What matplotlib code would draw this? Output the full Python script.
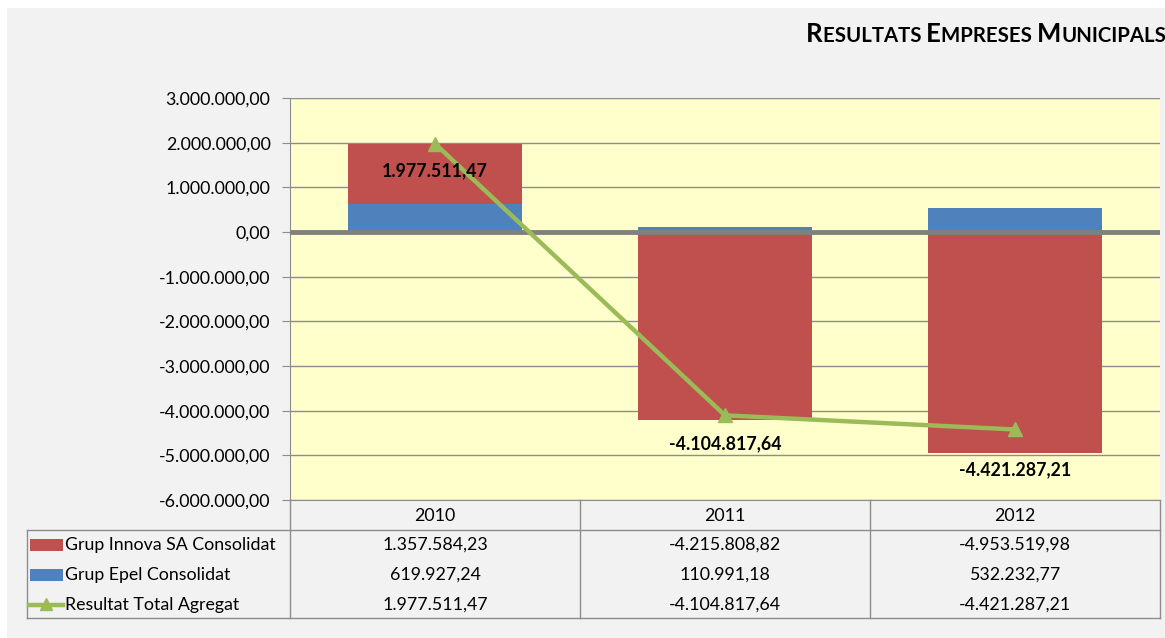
import matplotlib
matplotlib.use("Agg")
import matplotlib.pyplot as plt
import matplotlib.patches as mpatches
from matplotlib.lines import Line2D
from matplotlib.ticker import FuncFormatter
import numpy as np

# data
years = ["2010", "2011", "2012"]
innova = [1357584.23, -4215808.82, -4953519.98]
epel = [619927.24, 110991.18, 532232.77]
total = [1977511.47, -4104817.64, -4421287.21]
series_names = ["Grup Innova SA Consolidat", "Grup Epel Consolidat", "Resultat Total Agregat"]
yticks = [3e6, 2e6, 1e6, 0, -1e6, -2e6, -3e6, -4e6, -5e6, -6e6]

RED = "#C0504D"
BLUE = "#4F81BD"
GREEN = "#9BBB59"
GRID = "#8C8C8C"
FONT = "Lato"
FS = 12.8

W, H = 1165, 638


def eu(v, pos=None):
    # 1234567.89 -> 1.234.567,89
    s = f"{v:,.2f}"
    return s.replace(",", "X").replace(".", ",").replace("X", ".")


def fx(px):
    return px / W


def fy(py):
    return 1 - py / H


fig = plt.figure(figsize=(W / 100, H / 100), dpi=100, facecolor="white")
# gray chart area with the thin white border at left/top
fig.patches.append(mpatches.Rectangle((fx(7), 0), 1, fy(8), transform=fig.transFigure,
                                      facecolor="#F2F2F2", edgecolor="none", zorder=-10))

ax = fig.add_axes([fx(290), fy(500), fx(1160) - fx(290), fy(98) - fy(500)])
ax.set_facecolor("#FFFFCC")

x = np.arange(len(years))
epel_arr = np.array(epel)
innova_arr = np.array(innova)
bottom_innova = np.where(innova_arr >= 0, np.where(epel_arr > 0, epel_arr, 0), np.where(epel_arr < 0, epel_arr, 0))
ax.bar(x, epel_arr, width=0.6, color=BLUE, zorder=2)
ax.bar(x, innova_arr, width=0.6, bottom=bottom_innova, color=RED, zorder=2)

ax.plot(x, total, color=GREEN, lw=3.2, marker="^", ms=10, zorder=4)
label_off = [-27, -28, -40]
for xi, v, off in zip(x, total, label_off):
    ax.annotate(eu(v), (xi, v), xytext=(0, off), textcoords="offset pixels",
                ha="center", va="center", fontsize=12.8, fontweight="bold",
                family=FONT, zorder=5)

ax.set_xlim(-0.5, 2.5)
ax.set_ylim(-6e6, 3e6)
ax.set_yticks(yticks)
ax.yaxis.set_major_formatter(FuncFormatter(eu))
ax.set_xticks([])
for t in yticks:
    if t == 0:
        continue
    ax.axhline(t, color=GRID, lw=1, zorder=1)
ax.axhline(0, color="#808080", lw=3.5, zorder=3)
ax.tick_params(axis="y", length=6, color=GRID, pad=8, labelsize=FS)
for lab in ax.get_yticklabels():
    lab.set_family(FONT)
for s in ["top", "right"]:
    ax.spines[s].set_visible(False)
ax.spines["left"].set_color(GRID)
ax.spines["bottom"].set_color(GRID)
ax.spines["left"].set_zorder(1)

# data table below the plot
tcol = "#8C8C8C"
col_edges = [290, 580, 870, 1160]
fig.add_artist(Line2D([fx(27), fx(1160)], [fy(530), fy(530)], color=tcol, lw=1))
fig.add_artist(Line2D([fx(27), fx(1160)], [fy(618), fy(618)], color=tcol, lw=1))
fig.add_artist(Line2D([fx(27), fx(27)], [fy(530), fy(618)], color=tcol, lw=1))
for ce in col_edges:
    fig.add_artist(Line2D([fx(ce), fx(ce)], [fy(500), fy(618)], color=tcol, lw=1))

row_y = [545, 575, 605]
rows = [innova, epel, total]
trans = matplotlib.transforms.blended_transform_factory(ax.transData, fig.transFigure)
for i, yr in enumerate(years):
    fig.text(x[i], fy(516), yr, transform=trans, ha="center", va="center",
             fontsize=FS, family=FONT)
for r, (name, vals, ry) in enumerate(zip(series_names, rows, row_y)):
    if r < 2:
        fig.patches.append(mpatches.Rectangle((fx(30), fy(ry + 6)), fx(33), fy(ry - 6) - fy(ry + 6),
                                              transform=fig.transFigure,
                                              facecolor=[RED, BLUE][r], edgecolor="none"))
    else:
        fig.add_artist(Line2D([fx(29), fx(63)], [fy(ry), fy(ry)], color=GREEN, lw=3.2))
        fig.add_artist(Line2D([fx(46)], [fy(ry - 1)], color=GREEN, marker="^", ms=9, lw=0))
    fig.text(fx(65), fy(ry), name, ha="left", va="center", fontsize=FS, family=FONT)
    for i, v in enumerate(vals):
        fig.text(x[i], fy(ry), eu(v), transform=trans, ha="center", va="center",
                 fontsize=FS, family=FONT)

# title in small caps, built piece by piece
words = ["Resultats", "Empreses", "Municipals"]
last = None
base_y = fy(42)
for wi, w in enumerate(words):
    parts = [(w[0], 18.5), (w[1:].upper() + (" " if wi < len(words) - 1 else ""), 14.7)]
    for txt, size in parts:
        if last is None:
            last = fig.text(fx(806), base_y, txt, fontsize=size, fontweight="bold",
                            family=FONT, ha="left", va="baseline")
        else:
            last = ax.annotate(txt, xy=(1, base_y), xycoords=(last, "figure fraction"),
                               fontsize=size, fontweight="bold", family=FONT,
                               ha="left", va="baseline", annotation_clip=False)

fig.savefig("out.png", dpi=100, facecolor="white")
